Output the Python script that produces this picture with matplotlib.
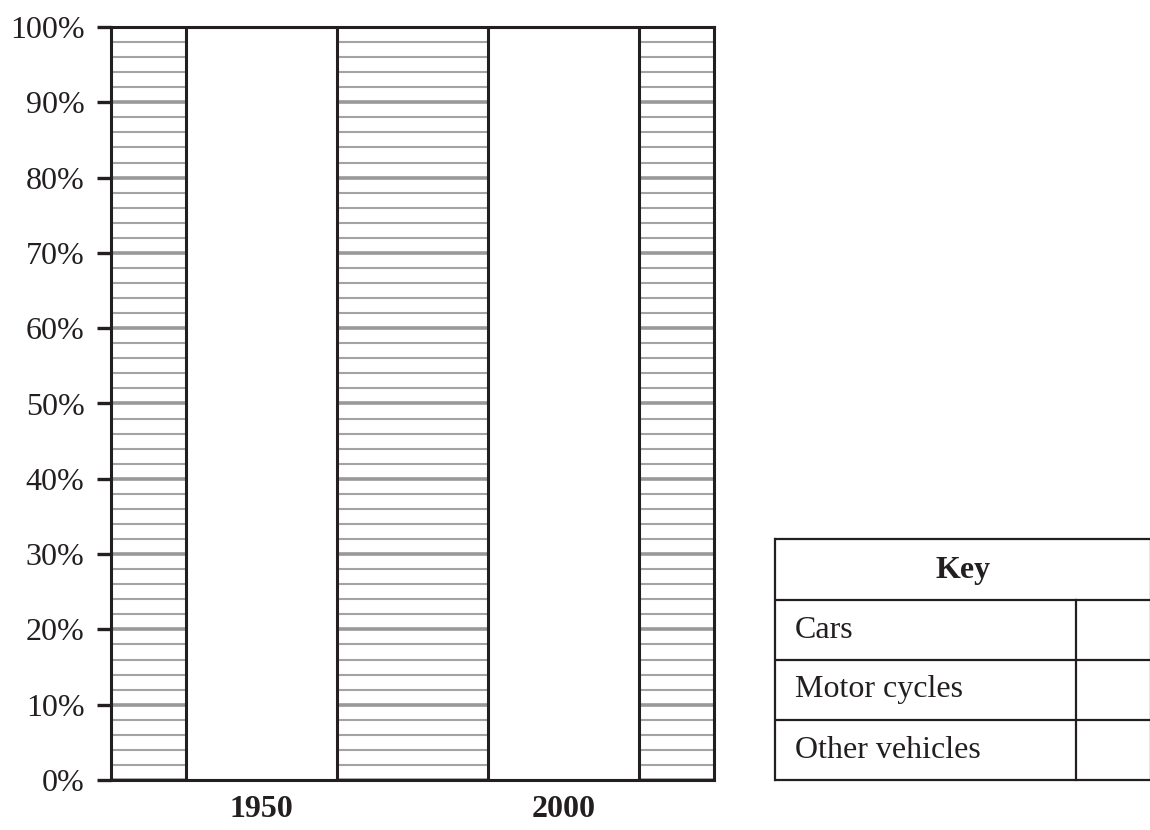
import matplotlib
matplotlib.use("Agg")
import matplotlib.pyplot as plt
from matplotlib.ticker import MultipleLocator, FuncFormatter

# ---- data ----
years = ["1950", "2000"]
bar_totals = [100, 100]          # empty template bars spanning 0-100%
key_title = "Key"
key_items = ["Cars", "Motor cycles", "Other vehicles"]
y_ticks = [0, 10, 20, 30, 40, 50, 60, 70, 80, 90, 100]

INK = "#231f20"
plt.rcParams["font.family"] = ["Liberation Serif", "DejaVu Serif"]
FS = 23

fig = plt.figure(figsize=(11.5, 8.3), dpi=100)
W, H = 1150, 830
ax = fig.add_axes([111 / W, 50 / H, 603 / W, 753 / H])

positions = [1, 3]
ax.bar(positions, bar_totals, width=1.0, color="white", edgecolor=INK,
       linewidth=2.2, zorder=3)

ax.set_xlim(0, 4)
ax.set_ylim(0, 100)
ax.set_xticks(positions)
ax.set_xticklabels(years, fontsize=FS, fontweight="bold", color=INK)
ax.set_yticks(y_ticks)
ax.yaxis.set_major_formatter(FuncFormatter(lambda v, p: f"{int(v)}%"))
ax.yaxis.set_minor_locator(MultipleLocator(2))
ax.tick_params(axis="y", which="major", length=10, width=2.4, color=INK,
               labelsize=FS, pad=9, labelcolor=INK)
ax.tick_params(axis="y", which="minor", length=0)
ax.tick_params(axis="x", length=0, pad=11)

ax.set_axisbelow(True)
ax.grid(axis="y", which="major", color="#999999", linewidth=2.6, zorder=0)
ax.grid(axis="y", which="minor", color="#a3a3a3", linewidth=1.5, zorder=0)

for s in ax.spines.values():
    s.set_color(INK)
    s.set_linewidth(2.2)
    s.set_zorder(4)

# ---- key table ----
tax = fig.add_axes([775 / W, 50 / H, 376 / W, 241 / H])
tax.set_xlim(775, 1151)
tax.set_ylim(780, 539)
tax.axis("off")
lw = 1.6
rows = [539, 600, 660, 720, 780]
for y in rows:
    tax.plot([774, 1152], [y, y], color=INK, lw=lw, clip_on=False,
             solid_capstyle="butt")
tax.plot([775, 775], [539, 780], color=INK, lw=lw, clip_on=False)
tax.plot([1151, 1151], [539, 780], color=INK, lw=lw, clip_on=False)
tax.plot([1076, 1076], [600, 780], color=INK, lw=lw, clip_on=False)
tax.text(963, (539 + 600) / 2 + 1, key_title, ha="center", va="center",
         fontsize=FS, fontweight="bold", color=INK)
for i, name in enumerate(key_items):
    yc = (rows[i + 1] + rows[i + 2]) / 2
    tax.text(795, yc, name, ha="left", va="center", fontsize=FS, color=INK)

fig.savefig("out.png", dpi=100)
